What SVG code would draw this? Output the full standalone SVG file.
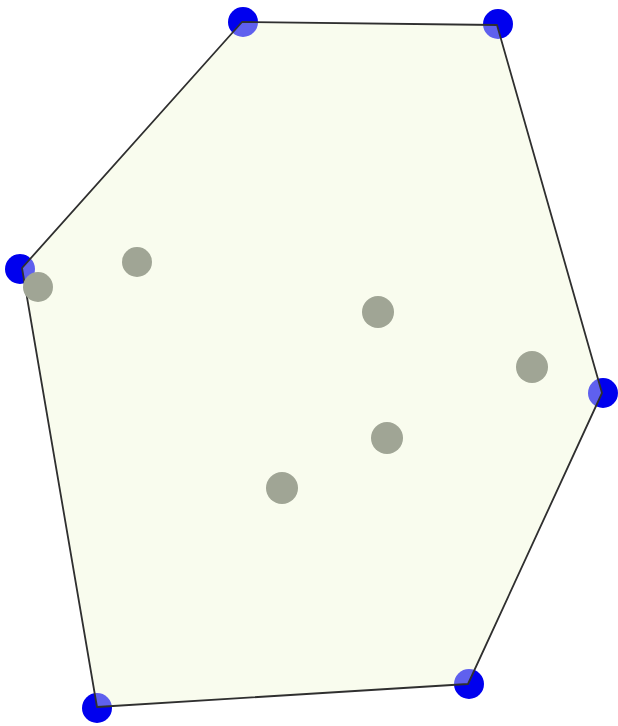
<svg xmlns="http://www.w3.org/2000/svg" width="618" height="726" viewBox="0 0 618 726">
<style>
.hullpt{fill:#0000ee;}
.pt{fill:#a0a595;}
.hull{fill:#f9fcee;fill-opacity:0.38;stroke:#2f2f2f;stroke-width:1.8;stroke-linejoin:round;}
</style>
<rect width="618" height="726" fill="#ffffff"/>
<polygon points="242,22 497,25 602,393 468,684 97,707 22,268" fill="#f9fcee"/>
<g id="hull-vertices">
<circle class="hullpt" cx="243" cy="22" r="15"/>
<circle class="hullpt" cx="498" cy="24" r="15"/>
<circle class="hullpt" cx="603" cy="393" r="15"/>
<circle class="hullpt" cx="469" cy="684" r="15"/>
<circle class="hullpt" cx="97" cy="708" r="15"/>
<circle class="hullpt" cx="20" cy="269" r="15"/>
</g>
<g id="connectors">
<polygon class="hull" points="242,22 497,25 602,393 468,684 97,707 22,268"/>
</g>
<g id="points">
<circle class="pt" cx="38" cy="287" r="15"/>
<circle class="pt" cx="137" cy="262" r="15"/>
<circle class="pt" cx="378" cy="312" r="16"/>
<circle class="pt" cx="532" cy="367" r="16"/>
<circle class="pt" cx="387" cy="438" r="16"/>
<circle class="pt" cx="282" cy="488" r="16"/>
</g>
</svg>
